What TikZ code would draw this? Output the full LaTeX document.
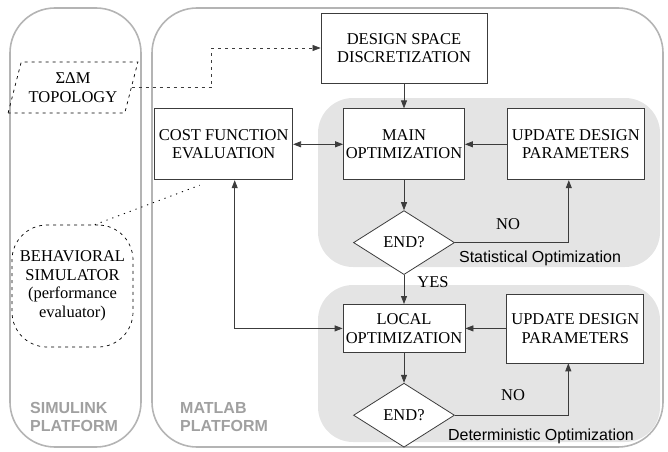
\documentclass[tikz,border=0pt]{standalone}
\usepackage{fontspec}
\setmainfont{Liberation Serif}
\setsansfont{Liberation Sans}
\usetikzlibrary{arrows.meta,positioning,shapes.geometric}
\definecolor{platline}{HTML}{B4B4B4}
\definecolor{platfill}{HTML}{E4E4E4}
\definecolor{plattext}{HTML}{A0A0A0}
\definecolor{boxline}{HTML}{3C3C3C}

\begin{document}
\begin{tikzpicture}[
  x=1pt, y=1pt,
  font=\fontsize{16.5}{18.5}\selectfont,
  >={Triangle[length=8pt,width=6pt]},
  box/.style={
    draw=boxline, fill=white, line width=0.8pt, align=center,
    inner sep=1.5pt, minimum width=121pt, minimum height=71pt
  },
  decision/.style={
    draw=boxline, fill=white, diamond, line width=0.8pt,
    inner sep=0pt, minimum width=101pt, minimum height=64pt
  },
  platform/.style={draw=platline, line width=1.6pt, rounded corners=45pt},
  region/.style={fill=platfill, rounded corners=35pt},
  platlbl/.style={
    text=plattext, align=left, inner sep=0pt,
    font=\sffamily\bfseries\fontsize{16}{18}\selectfont
  },
  optlbl/.style={font=\sffamily\fontsize{16}{18}\selectfont, inner sep=0pt},
  dashline/.style={dash pattern=on 3pt off 4pt, line width=0.7pt},
  dotline/.style={dash pattern=on 1.2pt off 5pt, line width=0.9pt},
  arrow/.style={->, line width=0.8pt, color=boxline},
  twoway/.style={<->, line width=0.8pt, color=boxline}
]
  \useasboundingbox (0,0) rectangle (668,451);
  % platforms and optimization regions
  \draw[platform] (10,4) rectangle (141,443);
  \draw[platform] (152,4) rectangle (663,443);
  \fill[region] (318,184) rectangle (660,353);
  \fill[region] (318,9) rectangle (660,166);
  \node[platlbl, anchor=west] (simlbl) at (30,34) {SIMULINK\\PLATFORM};
  \node[platlbl, anchor=west] (matlbl) at (180,34) {MATLAB\\PLATFORM};
  \node[optlbl] (statlbl) at (540,193) {Statistical Optimization};
  \node[optlbl] (detlbl) at (541,15) {Deterministic Optimization};

  % flow
  \node[box, minimum width=166pt, minimum height=70pt] (dsd) at (404,403) {DESIGN SPACE\\DISCRETIZATION};
  \node[box, below=25pt of dsd] (mainopt) {MAIN\\OPTIMIZATION};
  \node[box, right=42pt of mainopt, minimum width=137pt] (upd1) {UPDATE DESIGN\\PARAMETERS};
  \node[box, left=50pt of mainopt, minimum width=138pt] (cost) {COST FUNCTION\\EVALUATION};
  \node[decision, below=30pt of mainopt] (end1) {END?};
  \node[box, below=29pt of end1, minimum width=122pt, minimum height=48pt] (localopt) {LOCAL\\OPTIMIZATION};
  \node[box, right=41pt of localopt, minimum width=137pt, minimum height=69pt] (upd2) {UPDATE DESIGN\\PARAMETERS};
  \node[decision, below=30pt of localopt] (end2) {END?};

  % simulink side
  \node[draw, dashline, trapezium, trapezium left angle=70, trapezium right angle=110,
    trapezium stretches=true, minimum width=130pt, minimum height=51pt,
    align=center, inner sep=1pt] (topo) at (73,363.5) {ΣΔM\\TOPOLOGY};
  \node[draw, dashline, rounded corners=35pt, minimum width=121pt, minimum height=122pt,
    align=center, inner sep=1pt] (behav) at (72.5,165) {BEHAVIORAL\\SIMULATOR\\(performance\\evaluator)};

  \node (no1) at (508,227) {NO};
  \node (yes) at (433,169) {YES};
  \node (no2) at (513,56) {NO};

  \draw[arrow, dashline] (topo.east) -- ++(80,0) |- (dsd.west);
  \draw[dotline] (behav.70) -- ([xshift=-24pt,yshift=-5pt]cost.south);
  \draw[arrow] (dsd) -- (mainopt);
  \draw[arrow] (upd1) -- (mainopt);
  \draw[twoway] (cost) -- (mainopt);
  \draw[arrow] (mainopt) -- (end1);
  \draw[arrow] (end1.east) -| ([xshift=-7pt]upd1.south);
  \draw[arrow] (end1) -- (localopt);
  \draw[arrow] (upd2) -- (localopt);
  \draw[arrow] (localopt) -- (end2);
  \draw[arrow] (end2.east) -| ([xshift=-7pt]upd2.south);
  \draw[twoway] ([xshift=11pt]cost.south) |- (localopt.west);
\end{tikzpicture}
\end{document}
